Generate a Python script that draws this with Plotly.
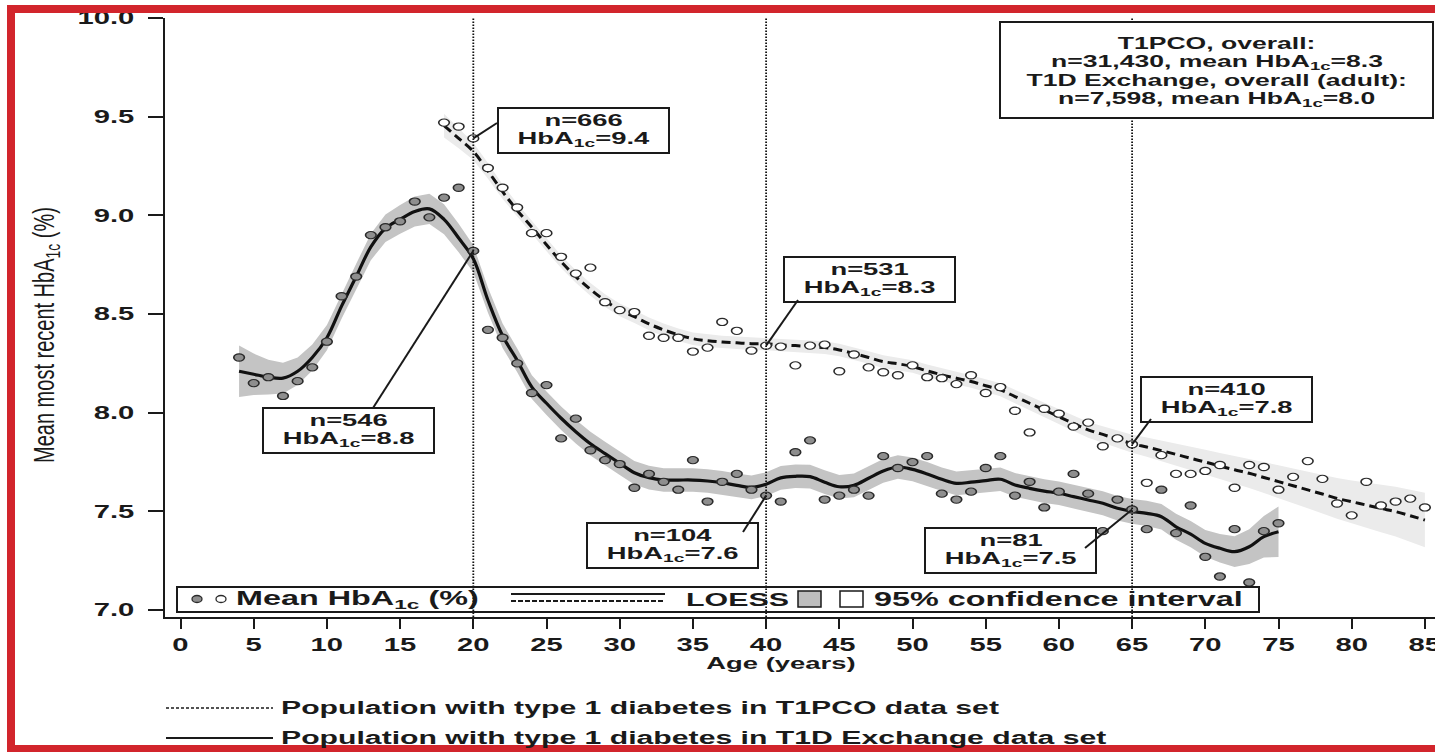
import plotly.graph_objects as go

# ------------------------------------------------------------------ data
# T1D Exchange: mean most recent HbA1c (%) by single year of age
t1d_age = list(range(4, 76))
t1d_mean = [8.28, 8.15, 8.18, 8.085, 8.16, 8.23, 8.36, 8.59, 8.69, 8.90,
            8.94, 8.97, 9.07, 8.99, 9.09, 9.14, 8.82, 8.42, 8.38, 8.25,
            8.10, 8.14, 7.87, 7.97, 7.81, 7.76, 7.74, 7.62, 7.69, 7.65,
            7.61, 7.76, 7.55, 7.65, 7.69, 7.61, 7.58, 7.55, 7.80, 7.86,
            7.56, 7.58, 7.61, 7.58, 7.78, 7.72, 7.75, 7.78, 7.59, 7.56,
            7.60, 7.72, 7.78, 7.58, 7.65, 7.52, 7.60, 7.69, 7.59, 7.40,
            7.56, 7.51, 7.41, 7.61, 7.39, 7.53, 7.27, 7.17, 7.41, 7.14,
            7.40, 7.44]
# LOESS fit and half-width of its 95% confidence interval
t1d_fit = [8.21, 8.195, 8.18, 8.175, 8.21, 8.28, 8.38, 8.54, 8.69, 8.84,
           8.935, 8.98, 9.02, 9.033, 8.98, 8.885, 8.78, 8.57, 8.39, 8.265,
           8.13, 8.048, 7.972, 7.904, 7.843, 7.793, 7.744, 7.696, 7.671, 7.659,
           7.659, 7.659, 7.654, 7.645, 7.632, 7.622, 7.638, 7.67, 7.678, 7.676,
           7.648, 7.625, 7.632, 7.668, 7.705, 7.725, 7.713, 7.69, 7.663, 7.642,
           7.648, 7.656, 7.663, 7.634, 7.617, 7.603, 7.592, 7.575, 7.558, 7.541,
           7.516, 7.5, 7.49, 7.473, 7.422, 7.385, 7.338, 7.313, 7.296, 7.321,
           7.372, 7.397]
t1d_ci_half = [0.13, 0.105, 0.088, 0.078, 0.07, 0.066, 0.064, 0.064, 0.065, 0.067,
               0.07, 0.073, 0.076, 0.077, 0.076, 0.072, 0.068, 0.064, 0.062, 0.06,
               0.06, 0.06, 0.06, 0.06, 0.06, 0.06, 0.06, 0.06, 0.06, 0.06,
               0.06, 0.06, 0.06, 0.06, 0.06, 0.06, 0.06, 0.06, 0.06, 0.06,
               0.06, 0.06, 0.06, 0.06, 0.06, 0.06, 0.06, 0.06, 0.06, 0.06,
               0.06, 0.06, 0.06, 0.06, 0.06, 0.06, 0.06, 0.06, 0.06, 0.061,
               0.062, 0.063, 0.064, 0.065, 0.066, 0.067, 0.068, 0.072, 0.078, 0.088,
               0.105, 0.128]

# T1PCO: mean most recent HbA1c (%) by single year of age
t1pco_age = list(range(18, 86))
t1pco_mean = [9.47, 9.45, 9.39, 9.24, 9.14, 9.04, 8.91, 8.91, 8.79, 8.705,
              8.735, 8.56, 8.52, 8.51, 8.39, 8.38, 8.38, 8.31, 8.33, 8.46,
              8.415, 8.315, 8.34, 8.335, 8.24, 8.34, 8.345, 8.21, 8.295, 8.23,
              8.205, 8.19, 8.24, 8.18, 8.175, 8.145, 8.19, 8.10, 8.13, 8.01,
              7.90, 8.02, 7.995, 7.93, 7.95, 7.83, 7.87, 7.84, 7.645, 7.785,
              7.69, 7.69, 7.705, 7.735, 7.62, 7.735, 7.725, 7.61, 7.675, 7.755,
              7.665, 7.54, 7.48, 7.65, 7.53, 7.55, 7.565, 7.52]
t1pco_fit = [9.455, 9.39, 9.324, 9.225, 9.12, 9.025, 8.94, 8.851, 8.765, 8.69,
             8.625, 8.568, 8.521, 8.487, 8.45, 8.42, 8.395, 8.375, 8.365, 8.358,
             8.354, 8.35, 8.349, 8.343, 8.34, 8.335, 8.33, 8.318, 8.3, 8.28,
             8.259, 8.248, 8.234, 8.212, 8.192, 8.175, 8.158, 8.137, 8.116, 8.082,
             8.048, 8.014, 7.98, 7.946, 7.913, 7.89, 7.866, 7.843, 7.826, 7.808,
             7.789, 7.769, 7.75, 7.73, 7.711, 7.693, 7.672, 7.651, 7.63, 7.609,
             7.588, 7.566, 7.549, 7.532, 7.515, 7.499, 7.478, 7.456]
t1pco_ci_half = [0.06, 0.05, 0.044, 0.04, 0.037, 0.035, 0.034, 0.033, 0.032, 0.032,
                 0.032, 0.032, 0.032, 0.032, 0.032, 0.032, 0.032, 0.032, 0.032, 0.032,
                 0.032, 0.032, 0.032, 0.032, 0.032, 0.032, 0.032, 0.032, 0.032, 0.032,
                 0.032, 0.032, 0.032, 0.032, 0.032, 0.032, 0.032, 0.032, 0.033, 0.034,
                 0.035, 0.036, 0.037, 0.038, 0.04, 0.042, 0.044, 0.046, 0.049, 0.052,
                 0.055, 0.058, 0.062, 0.066, 0.07, 0.074, 0.078, 0.083, 0.088, 0.093,
                 0.098, 0.103, 0.108, 0.114, 0.12, 0.126, 0.132, 0.138]

# Labelled milestone ages and the group sizes shown in their call-outs
milestone_ages = [20, 40, 65]
callout_series = ["T1PCO", "T1D", "T1PCO", "T1D", "T1PCO", "T1D"]
callout_age = [20, 20, 40, 40, 65, 65]
callout_n = [666, 546, 531, 104, 410, 81]

summary_lines = ["T1PCO, overall:",
                 "n=31,430, mean HbA<sub>1c</sub>=8.3",
                 "T1D Exchange, overall (adult):",
                 "n=7,598, mean HbA<sub>1c</sub>=8.0"]

x_ticks = list(range(0, 90, 5))
y_ticks = [7.0, 7.5, 8.0, 8.5, 9.0, 9.5, 10.0]
y_tick_text = ["7.0", "7.5", "8.0", "8.5", "9.0", "9.5", "10.0"]

# ------------------------------------------------------------------ geometry
W, H = 1435, 752
M_L, M_R, M_T, M_B = 165, 0, 18, 135
PW, PH = W - M_L - M_R, H - M_T - M_B
X_RANGE = [-1.06, 85.69]
Y_RANGE = [6.965, 10.0]

FONT = "Liberation Sans, Arial, Helvetica, sans-serif"
INK = "#1a1a1a"
RED = "#d2252c"
BOLD = "bold"


def px_x(px):
    """pixel column -> paper x"""
    return (px - M_L) / PW


def px_y(py):
    """pixel row -> paper y"""
    return (H - M_B - py) / PH


def dx(px):
    """pixel column -> age"""
    return X_RANGE[0] + (px - M_L) / PW * (X_RANGE[1] - X_RANGE[0])


def dy(py):
    """pixel row -> HbA1c"""
    return Y_RANGE[1] - (py - M_T) / PH * (Y_RANGE[1] - Y_RANGE[0])


def band(ages, fit, half, color):
    upper = [f + h for f, h in zip(fit, half)]
    lower = [f - h for f, h in zip(fit, half)]
    return go.Scatter(x=ages + ages[::-1], y=upper + lower[::-1],
                      fill="toself", fillcolor=color, mode="lines",
                      line=dict(width=0), hoverinfo="skip", showlegend=False)


fig = go.Figure()

# confidence bands
fig.add_trace(band(t1pco_age, t1pco_fit, t1pco_ci_half, "#ebebeb"))
fig.add_trace(band(t1d_age, t1d_fit, t1d_ci_half, "#c4c4c4"))

# LOESS curves
fig.add_trace(go.Scatter(x=t1pco_age, y=t1pco_fit, mode="lines",
                         line=dict(color="#111111", width=3, dash="9px,5px", shape="spline"),
                         showlegend=False))
fig.add_trace(go.Scatter(x=t1d_age, y=t1d_fit, mode="lines",
                         line=dict(color="#111111", width=3.2, shape="spline"),
                         showlegend=False))

# yearly means
fig.add_trace(go.Scatter(x=t1pco_age, y=t1pco_mean, mode="markers",
                         marker=dict(size=8.5, color="white",
                                     line=dict(color="#2a2a2a", width=1.3)),
                         showlegend=False))
fig.add_trace(go.Scatter(x=t1d_age, y=t1d_mean, mode="markers",
                         marker=dict(size=8.5, color="#8e8e8e",
                                     line=dict(color="#2a2a2a", width=1.3)),
                         showlegend=False))

shapes = []
annotations = []


def text(px, py, s, size, anchor="center", weight=BOLD, **kw):
    d = dict(xref="paper", yref="paper", x=px_x(px), y=px_y(py),
             xanchor=anchor, yanchor="middle", align=anchor, text=s,
             showarrow=False, font=dict(family=FONT, size=size, color=INK, weight=weight))
    d.update(kw)
    return d


def hline(x0, x1, y, **line):
    return dict(type="line", xref="paper", yref="paper",
                x0=px_x(x0), x1=px_x(x1), y0=px_y(y), y1=px_y(y), line=line, layer="above")


def box(x0, y0, x1, y1, **kw):
    d = dict(type="rect", xref="paper", yref="paper",
             x0=px_x(x0), x1=px_x(x1), y0=px_y(y1), y1=px_y(y0), layer="above")
    d.update(kw)
    return d


# milestone age markers
for a in milestone_ages:
    shapes.append(dict(type="line", xref="x", yref="paper", x0=a, x1=a, y0=0, y1=1,
                       line=dict(color="#111111", width=1.8, dash="1.5px,1.5px"), layer="above"))

# call-out boxes: (left, top) of box and start of leader line, in pixels
callout_boxes = [
    (498, 108, 497, 123),
    (263, 408, 373, 408),
    (784, 257, 798, 300),
    (587, 523, 743, 532),
    (1141, 377, 1151, 419),
    (925, 528, 1085, 548),
]
BOX_W, BOX_H = 171, 45
series_lookup = {"T1PCO": (t1pco_age, t1pco_mean), "T1D": (t1d_age, t1d_mean)}
for (bx, by, lx, ly), ser, age, n in zip(callout_boxes, callout_series, callout_age, callout_n):
    ages, vals = series_lookup[ser]
    val = vals[ages.index(age)]
    shapes.append(box(bx, by, bx + BOX_W, by + BOX_H,
                      fillcolor="white", line=dict(color=INK, width=2)))
    shapes.append(dict(type="line", xref="x", yref="y", x0=age, y0=val, x1=dx(lx), y1=dy(ly),
                       line=dict(color=INK, width=2), layer="above"))
    cx = bx + BOX_W / 2
    annotations.append(text(cx, by + 12, f"n={n}", 16.5))
    annotations.append(text(cx, by + 31, f"HbA<sub>1c</sub>={val:.1f}", 16.5))

# overall summary box
shapes.append(box(1000, 22, 1433, 118, fillcolor="white", line=dict(color=INK, width=2)))
for line_y, s in zip([43, 62, 80, 99], summary_lines):
    annotations.append(text(1216.5, line_y, s, 16))

# key inside the plot
shapes.append(box(177, 587, 1259, 612, line=dict(color=INK, width=2)))
for cxp, fill in [(197, "#8e8e8e"), (221, "white")]:
    shapes.append(dict(type="circle", xref="paper", yref="paper",
                       xsizemode="pixel", ysizemode="pixel",
                       xanchor=px_x(cxp), yanchor=px_y(599), x0=-5, x1=5, y0=-3.5, y1=3.5,
                       fillcolor=fill, line=dict(color="#2a2a2a", width=1.3), layer="above"))
shapes.append(hline(511, 665, 594, color=INK, width=2.2))
shapes.append(hline(511, 665, 601, color=INK, width=2.2, dash="5px,2px"))
shapes.append(box(798, 591, 821, 607, fillcolor="#bdbdbd", line=dict(color=INK, width=1.5)))
shapes.append(box(840, 591, 863, 607, fillcolor="white", line=dict(color=INK, width=1.5)))
annotations.append(text(234, 599, "Mean HbA<sub>1c</sub> (%)", 19.5, anchor="left"))
annotations.append(text(684, 599, "LOESS", 18.3, anchor="left"))
annotations.append(text(872, 599, "95% confidence interval", 19.5, anchor="left"))

# axis titles
annotations.append(text(781, 663, "Age (years)", 16.5))
annotations.append(text(45, 335, "Mean most recent HbA<sub>1c</sub> (%)", 20,
                        weight="normal", textangle=-90))

# line-style captions below the chart
shapes.append(hline(166, 273, 708, color=INK, width=1.5, dash="3px,2px"))
shapes.append(hline(166, 273, 738, color=INK, width=2))
annotations.append(text(279, 708, "Population with type 1 diabetes in T1PCO data set", 18.2, anchor="left"))
annotations.append(text(279, 738, "Population with type 1 diabetes in T1D Exchange data set", 18.2, anchor="left"))

# red frame (top, left and bottom edges; runs off the right of the page)
red_edge = dict(fillcolor=RED, line=dict(width=0))
shapes.append(box(7, 5, 1436, 13, **red_edge))
shapes.append(box(7, 745, 1436, 753, **red_edge))
shapes.append(box(7, 5, 15, 753, **red_edge))

tick_font = dict(family=FONT, size=17.6, color=INK, weight=BOLD)
fig.update_layout(
    width=W, height=H,
    margin=dict(l=M_L, r=M_R, t=M_T, b=M_B, pad=0),
    paper_bgcolor="white", plot_bgcolor="white",
    showlegend=False,
    shapes=shapes, annotations=annotations,
    font=dict(family=FONT, color=INK),
    xaxis=dict(range=X_RANGE, tickvals=x_ticks, ticks="outside", ticklen=10, tickwidth=2,
               tickcolor=INK, showline=True, linecolor=INK, linewidth=2,
               showgrid=False, zeroline=False, ticklabelstandoff=1, tickfont=tick_font),
    yaxis=dict(range=Y_RANGE, tickvals=y_ticks, ticktext=y_tick_text, ticks="outside",
               ticklen=15, tickwidth=2, tickcolor=INK, showline=True, linecolor=INK,
               linewidth=2, showgrid=False, zeroline=False, ticklabelstandoff=10,
               tickfont=tick_font),
)

# The printed figure uses wide lettering and flattened markers; widen each text
# about its anchor and squash marker glyphs once the SVG is drawn.
post = """
var gd = document.getElementById('{plot_id}');
var S = 1.66;
gd.querySelectorAll('text').forEach(function (t) {
  var txt = t.textContent || '';
  if (!txt.trim()) return;
  var bb = t.getBBox();
  var anchor = t.getAttribute('text-anchor') || 'start';
  var ox = anchor === 'middle' ? bb.x + bb.width / 2 : (anchor === 'end' ? bb.x + bb.width : bb.x);
  var oy = bb.y + bb.height / 2;
  var sx = S, sy = 1;
  if (txt.indexOf('Mean most recent') === 0) { sx = 1; sy = 1.5; }
  var prev = t.getAttribute('transform') || '';
  t.setAttribute('transform', prev + ' translate(' + ox + ',' + oy + ') scale(' + sx + ',' + sy + ') translate(' + (-ox) + ',' + (-oy) + ')');
});
gd.querySelectorAll('.scatterlayer path.point').forEach(function (p) {
  var prev = p.getAttribute('transform') || '';
  p.setAttribute('transform', prev + ' scale(1.25,0.85)');
});
"""

fig.write_html("out.html", config={"staticPlot": True}, post_script=post)
